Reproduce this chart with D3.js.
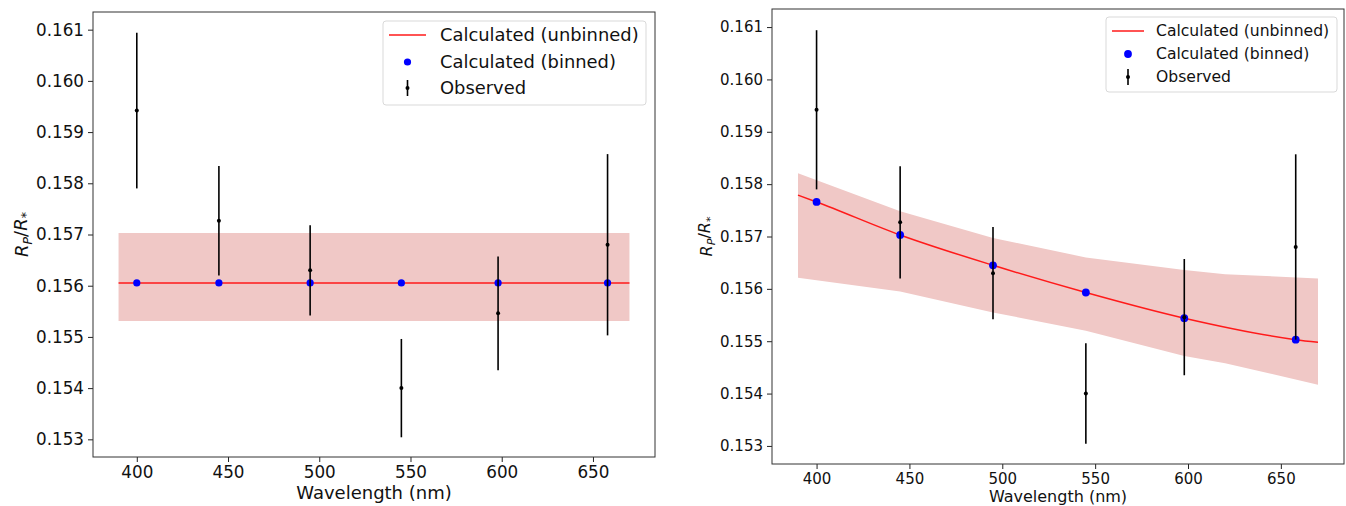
<!DOCTYPE html>
<html>
<head>
<meta charset="utf-8">
<script src="https://cdn.jsdelivr.net/npm/d3@7"></script>
<style>
  body { margin: 0; background: #fff; }
  svg { font-family: "DejaVu Sans", sans-serif; }
</style>
</head>
<body>
<div id="viz"></div>
<script>
// observed transit depths (same in both panels)
var wavelengths = [400, 445, 495, 545, 598, 658];
var observed = [0.15942, 0.15727, 0.15630, 0.15400, 0.15546, 0.15680];
var observedErr = [0.00152, 0.00107, 0.00088, 0.00096, 0.00111, 0.00177];

// left panel: flat model
var flatBinned = [0.156055, 0.156055, 0.156055, 0.156055, 0.156055, 0.156055];
var flatCurveWl = [390, 670];
var flatCurve = [0.156055, 0.156055];
var flatBandWl = [390, 670];
var flatLow = [0.15531, 0.15531];
var flatHigh = [0.15703, 0.15703];

// right panel: sloped model
var slopeBinned = [0.15766, 0.15703, 0.15645, 0.15593, 0.15544, 0.15503];
var slopeCurveWl = [390, 400, 445, 495, 545, 598, 658, 670];
var slopeCurve = [0.15779, 0.15766, 0.15703, 0.15645, 0.15593, 0.15544, 0.15503, 0.15498];
var slopeBandWl = [390, 445, 495, 545, 598, 620, 670];
var slopeLow = [0.15621, 0.15595, 0.15555, 0.15520, 0.15472, 0.15458, 0.15417];
var slopeHigh = [0.15821, 0.15748, 0.15697, 0.15660, 0.15636, 0.15628, 0.15620];

var xTicks = [400, 450, 500, 550, 600, 650];
var yTicks = [0.153, 0.154, 0.155, 0.156, 0.157, 0.158, 0.159, 0.160, 0.161];
var legendLabels = ["Calculated (unbinned)", "Calculated (binned)", "Observed"];

var svg = d3.select("#viz").append("svg")
    .attr("width", 1346)
    .attr("height", 506);

drawPanel({
    left: 93, right: 655, top: 12, bottom: 457,
    tickFont: 16.8, labelFont: 18, legendFont: 17.9,
    ylabX: 22, xlabY: 499, dotR: 3.6,
    legend: {x: 383, y: 21, w: 263, h: 84, rows: [35, 62, 88], line: [389, 426], textX: 440},
    curveWl: flatCurveWl, curve: flatCurve,
    bandWl: flatBandWl, low: flatLow, high: flatHigh,
    binned: flatBinned
});

drawPanel({
    left: 772, right: 1344, top: 9, bottom: 464,
    tickFont: 15, labelFont: 16, legendFont: 15.6,
    ylabX: 706, xlabY: 502, dotR: 3.9,
    legend: {x: 1106, y: 17, w: 231, h: 75, rows: [31, 54, 77], line: [1112, 1144], textX: 1156},
    curveWl: slopeCurveWl, curve: slopeCurve,
    bandWl: slopeBandWl, low: slopeLow, high: slopeHigh,
    binned: slopeBinned
});

function drawPanel(p) {
    var x = d3.scaleLinear().domain([376, 684]).range([p.left, p.right]);
    var y = d3.scaleLinear().domain([0.152655, 0.161345]).range([p.bottom, p.top]);
    var g = svg.append("g");

    // uncertainty band
    var bandPts = p.bandWl.map(function(w, i) { return {w: w, lo: p.low[i], hi: p.high[i]}; });
    g.append("path")
        .attr("d", d3.area()
            .x(function(d) { return x(d.w); })
            .y0(function(d) { return y(d.lo); })
            .y1(function(d) { return y(d.hi); })(bandPts))
        .attr("fill", "rgb(240,200,198)");

    // model curve
    var curvePts = p.curveWl.map(function(w, i) { return {w: w, v: p.curve[i]}; });
    g.append("path")
        .attr("d", d3.line()
            .x(function(d) { return x(d.w); })
            .y(function(d) { return y(d.v); })
            .curve(d3.curveMonotoneX)(curvePts))
        .attr("fill", "none")
        .attr("stroke", "#ff1a1a")
        .attr("stroke-width", 1.5);

    // binned model points
    g.selectAll("circle.binned")
        .data(wavelengths)
        .enter().append("circle")
        .attr("class", "binned")
        .attr("cx", function(d) { return x(d); })
        .attr("cy", function(d, i) { return y(p.binned[i]); })
        .attr("r", p.dotR)
        .attr("fill", "blue");

    // observed with error bars
    var obs = wavelengths.map(function(w, i) { return {w: w, v: observed[i], e: observedErr[i]}; });
    g.selectAll("line.err")
        .data(obs)
        .enter().append("line")
        .attr("class", "err")
        .attr("x1", function(d) { return x(d.w); })
        .attr("x2", function(d) { return x(d.w); })
        .attr("y1", function(d) { return y(d.v - d.e); })
        .attr("y2", function(d) { return y(d.v + d.e); })
        .attr("stroke", "black")
        .attr("stroke-width", 1.6);
    g.selectAll("circle.obs")
        .data(obs)
        .enter().append("circle")
        .attr("class", "obs")
        .attr("cx", function(d) { return x(d.w); })
        .attr("cy", function(d) { return y(d.v); })
        .attr("r", 2)
        .attr("fill", "black");

    // axes
    var xAxis = g.append("g")
        .attr("transform", "translate(0," + p.bottom + ")")
        .call(d3.axisBottom(x).tickValues(xTicks).tickSize(5).tickPadding(4).tickSizeOuter(0));
    var yAxis = g.append("g")
        .attr("transform", "translate(" + p.left + ",0)")
        .call(d3.axisLeft(y).tickValues(yTicks).tickFormat(d3.format(".3f")).tickSize(5).tickPadding(4).tickSizeOuter(0));
    [xAxis, yAxis].forEach(function(a) {
        a.select(".domain").remove();
        a.selectAll("text").attr("font-size", p.tickFont).attr("fill", "#111").attr("font-family", "DejaVu Sans");
        a.selectAll("line").attr("stroke", "#222");
    });

    g.append("rect")
        .attr("x", p.left).attr("y", p.top)
        .attr("width", p.right - p.left).attr("height", p.bottom - p.top)
        .attr("fill", "none").attr("stroke", "#333").attr("stroke-width", 1);

    g.append("text")
        .attr("x", (p.left + p.right) / 2)
        .attr("y", p.xlabY)
        .attr("text-anchor", "middle")
        .attr("font-size", p.labelFont)
        .attr("fill", "#111")
        .text("Wavelength (nm)");

    var yl = g.append("text")
        .attr("transform", "translate(" + p.ylabX + "," + ((p.top + p.bottom) / 2) + ") rotate(-90)")
        .attr("text-anchor", "middle")
        .attr("dy", "0.35em")
        .attr("font-size", p.labelFont)
        .attr("fill", "#111");
    yl.append("tspan").attr("font-style", "italic").text("R");
    yl.append("tspan").attr("font-style", "italic").attr("font-size", p.labelFont * 0.7).attr("dy", "0.3em").text("P");
    yl.append("tspan").attr("dy", "-0.3em").text("/");
    yl.append("tspan").attr("font-style", "italic").text("R");
    yl.append("tspan").attr("font-size", p.labelFont * 0.7).attr("dy", "0.3em").text("*");

    // legend
    var L = p.legend;
    var lg = g.append("g");
    lg.append("rect")
        .attr("x", L.x).attr("y", L.y).attr("width", L.w).attr("height", L.h)
        .attr("rx", 3)
        .attr("fill", "white").attr("fill-opacity", 0.8)
        .attr("stroke", "#d9d9d9");
    var mid = (L.line[0] + L.line[1]) / 2;
    lg.append("line")
        .attr("x1", L.line[0]).attr("x2", L.line[1])
        .attr("y1", L.rows[0]).attr("y2", L.rows[0])
        .attr("stroke", "#ff1a1a").attr("stroke-width", 1.5);
    lg.append("circle").attr("cx", mid).attr("cy", L.rows[1]).attr("r", p.dotR).attr("fill", "blue");
    lg.append("line")
        .attr("x1", mid).attr("x2", mid)
        .attr("y1", L.rows[2] - 8).attr("y2", L.rows[2] + 8)
        .attr("stroke", "black").attr("stroke-width", 1.6);
    lg.append("circle").attr("cx", mid).attr("cy", L.rows[2]).attr("r", 2).attr("fill", "black");
    lg.selectAll("text.leg")
        .data(legendLabels)
        .enter().append("text")
        .attr("class", "leg")
        .attr("x", L.textX)
        .attr("y", function(d, i) { return L.rows[i]; })
        .attr("dy", "0.35em")
        .attr("font-size", p.legendFont)
        .attr("fill", "#111")
        .text(function(d) { return d; });
}
</script>
</body>
</html>
